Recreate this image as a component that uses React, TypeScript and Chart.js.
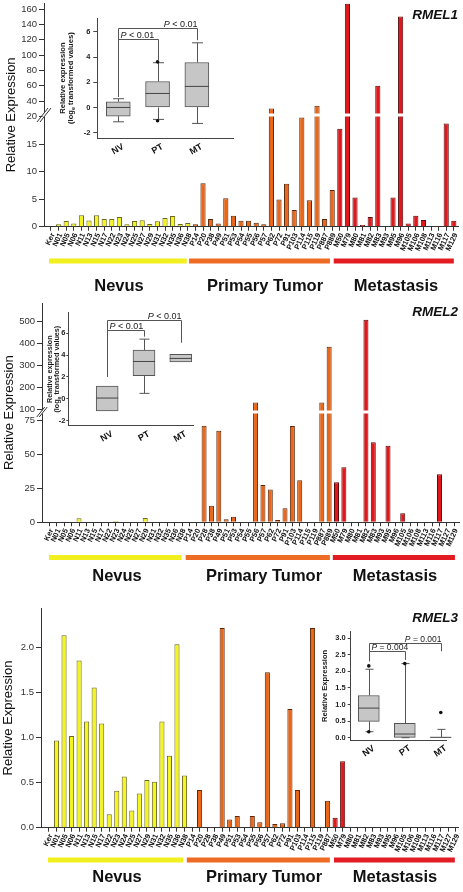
import React, { useEffect, useRef } from 'react';
import { Chart, registerables, LinearScale } from 'chart.js';

Chart.register(...registerables);

const FONT = '"Liberation Sans", Arial, Helvetica, sans-serif';
Chart.defaults.font.family = FONT;
Chart.defaults.color = '#222';

// ---------------- DATA ----------------
const NEVUS_LABELS = ['Ker', 'N01', 'N05', 'N06', 'N11', 'N13', 'N15', 'N17', 'N22', 'N23', 'N24', 'N25', 'N27', 'N29', 'N31', 'N32', 'N35', 'N36', 'N38'];
const PRIMARY_1 = ['P14', 'P20', 'P38', 'P49', 'P51', 'P53', 'P54', 'P55', 'P56', 'P57', 'P62', 'P72', 'P91', 'P103', 'P114', 'P115', 'P119', 'P887', 'P889'];
const META_1 = ['M50', 'M79', 'M80', 'M81', 'M82', 'M83', 'M93', 'M95', 'M96', 'M105', 'M106', 'M108', 'M113', 'M116', 'M117', 'M129'];
const PRIMARY_2 = ['P14', 'P20', 'P28', 'P38', 'P49', 'P51', 'P53', 'P54', 'P55', 'P56', 'P57', 'P62', 'P72', 'P91', 'P103', 'P114', 'P115', 'P119', 'P887', 'P889'];
const META_2 = ['M50', 'M79', 'M80', 'M81', 'M82', 'M83', 'M93', 'M95', 'M96', 'M105', 'M106', 'M108', 'M113', 'M116', 'M117', 'M127', 'M129'];
const PRIMARY_3 = ['P14', 'P20', 'P28', 'P38', 'P49', 'P51', 'P53', 'P54', 'P55', 'P56', 'P57', 'P62', 'P72', 'P91', 'P103', 'P114', 'P115', 'P119', 'P887'];
const META_3 = ['M50', 'M79', 'M80', 'M81', 'M82', 'M83', 'M93', 'M95', 'M96', 'M105', 'M106', 'M108', 'M113', 'M116', 'M117', 'M127', 'M129'];

const GROUP_NAMES = ['Nevus', 'Primary Tumor', 'Metastasis'];

const RMEL1_NEVUS = [0, 0.44, 1.05, 0.6, 2.06, 1.12, 2.06, 1.39, 1.39, 1.76, 0.44, 1.05, 1.15, 0.5, 0.97, 1.6, 1.92, 0.5, 0.65];
const RMEL1_PRIMARY = [0.44, 7.9, 1.4, 0.6, 5.15, 1.97, 1.1, 1.1, 0.7, 0.45, 30.6, 4.95, 7.8, 3.05, 19.8, 4.8, 34, 1.4, 6.65];
const RMEL1_META = [17.8, 167, 5.3, 0.3, 1.75, 60, 0, 5.3, 150.5, 0.6, 2.0, 1.2, 0, 0, 18.75, 1.1];

const RMEL2_NEVUS = [0, 0, 0.3, 0, 2.9, 0, 0, 0, 0, 1.0, 0, 0, 0, 3.2, 0, 0, 0, 0, 0];
const RMEL2_PRIMARY = [0, 0, 71, 12.2, 67.4, 2.2, 4, 0, 0, 130, 27.4, 24.2, 1.7, 10.3, 70.8, 31, 0, 0, 130, 385];
const RMEL2_META = [29.4, 40.4, 0, 0, 508, 58.8, 0, 56.3, 0, 6.6, 0, 0, 0, 0, 35.3, 0, 0];

const RMEL3_NEVUS = [0, 0.97, 2.14, 1.02, 1.86, 1.18, 1.56, 1.16, 0.15, 0.41, 0.57, 0.19, 0.38, 0.53, 0.51, 1.18, 0.8, 2.04, 0.58];
const RMEL3_PRIMARY = [0, 0.42, 0, 0, 2.22, 0.09, 0.13, 0, 0.13, 0.06, 1.73, 0.04, 0.05, 1.32, 0.42, 0, 2.22, 0, 0.3];
const RMEL3_META = [0.11, 0.74, 0, 0, 0, 0, 0, 0, 0, 0, 0, 0, 0, 0, 0, 0, 0];

const Y1_TICKS = [0, 5, 10, 15, 20, 40, 60, 80, 100, 120, 140, 160];
const Y2_TICKS = [0, 25, 50, 75, 100, 200, 300, 400, 500];
const Y3_TICKS = [0, 0.5, 1, 1.5, 2];

// inset box plots
const INSET_GROUPS = ['NV', 'PT', 'MT'];

const BOX1_Q1 = [-0.69, 0, 0.05];
const BOX1_MED = [0, 1.11, 1.67];
const BOX1_Q3 = [0.45, 2.06, 3.57];
const BOX1_LO = [-1.14, -0.95, -1.27];
const BOX1_HI = [0.69, 3.55, 5.13];
const OUT1_X = [1, 1];
const OUT1_Y = [3.62, -1.06];
const BR1_FROM = [0, 0];
const BR1_TO = [1, 2];
const BR1_Y = [5.4, 6.27];
const BR1_LEFT = [0.84, 0.84];
const BR1_RIGHT = [3.75, 5.34];
const BR1_TEXT = [' < 0.01', ' < 0.01'];
const INSET1_TICKS = [-2, 0, 2, 4, 6];

const BOX2_Q1 = [-1.13, 2.11, 3.39];
const BOX2_MED = [0.06, 3.42, 3.7];
const BOX2_Q3 = [1.16, 4.46, 4.07];
const BOX2_LO = [-1.13, 0.49, 3.39];
const BOX2_HI = [1.16, 5.47, 4.07];
const OUT2_X: number[] = [];
const OUT2_Y: number[] = [];
const BR2_FROM = [0, 0];
const BR2_TO = [1, 2];
const BR2_Y = [6.3, 7.2];
const BR2_LEFT = [2.0, 2.0];
const BR2_RIGHT = [5.7, 5.14];
const BR2_TEXT = [' < 0.01', ' < 0.01'];
const INSET2_TICKS = [-2, 0, 2, 4, 6];

const BOX3_Q1 = [0.49, 0.01, 0];
const BOX3_MED = [0.89, 0.11, 0.01];
const BOX3_Q3 = [1.27, 0.43, 0.02];
const BOX3_LO = [0.18, 0, 0];
const BOX3_HI = [2.06, 2.23, 0.25];
const OUT3_X = [0, 0, 1, 2];
const OUT3_Y = [2.16, 0.18, 2.23, 0.76];
const BR3_FROM = [0, 0];
const BR3_TO = [1, 2];
const BR3_Y = [2.6, 2.84];
const BR3_LEFT = [2.3, 2.3];
const BR3_RIGHT = [2.34, 2.6];
const BR3_TEXT = [' = 0.004', ' = 0.001'];
const INSET3_TICKS = [0, 0.5, 1, 1.5, 2, 2.5, 3];

// ---------------- STYLE ----------------
const BAR_FILL = ['#F4F420', '#EA6618', '#E0171B'];
const BAR_EDGE = ['#6A671E', '#5A280C', '#560E0E'];
const GROUP_FILL = ['#F2EF1F', '#EE6B24', '#E31C24'];
const AXIS = '#333';

// ---------------- broken axis scale ----------------
class BrokenLinearScale extends LinearScale {
  getPixelForValue(value: any) {
    if (value === null || value === undefined || Number.isNaN(value)) return NaN;
    const o: any = this.options;
    const b: number = o.breakValue;
    const f: number = o.breakFraction;
    const min = (this as any).min;
    const max = (this as any).max;
    const dec = value <= b ? ((value - min) / (b - min)) * f : f + ((value - b) / (max - b)) * (1 - f);
    return this.getPixelForDecimal(dec);
  }
  getValueForPixel(pixel: number) {
    const o: any = this.options;
    const b: number = o.breakValue;
    const f: number = o.breakFraction;
    const min = (this as any).min;
    const max = (this as any).max;
    const dec = this.getDecimalForPixel(pixel);
    return dec <= f ? min + (dec / f) * (b - min) : b + ((dec - f) / (1 - f)) * (max - b);
  }
}
(BrokenLinearScale as any).id = 'brokenLinear';
(BrokenLinearScale as any).defaults = (LinearScale as any).defaults;
Chart.register(BrokenLinearScale as any);

// ---------------- panel specs ----------------
type MainSpec = {
  name: string; nameBaseline: number;
  primary: string[]; meta: string[]; nv: number[]; pv: number[]; mv: number[];
  canvasTop: number; canvasHeight: number; yAxisWidth: number; padTop: number; padRight: number; xAxisHeight: number;
  xMin: number; xMax: number;
  yType: string; yMax: number; breakValue?: number; breakFraction?: number; yTicks: number[]; yDecimals: number;
  titlePad: number; groupBarTop: number; groupLabelY: number; spans: number[][]; labelX: number[];
  breakMark?: { w: number; h: number; g: number };
};

const PANELS: MainSpec[] = [
  {
    name: 'RMEL1', nameBaseline: 18.5,
    primary: PRIMARY_1, meta: META_1, nv: RMEL1_NEVUS, pv: RMEL1_PRIMARY, mv: RMEL1_META,
    canvasTop: 0, canvasHeight: 298, yAxisWidth: 44, padTop: 3, padRight: 5, xAxisHeight: 71.3,
    xMin: -0.92, xMax: 53.55,
    yType: 'brokenLinear', yMax: 168, breakValue: 20, breakFraction: 0.4926, yTicks: Y1_TICKS, yDecimals: 0,
    titlePad: 4, groupBarTop: 258.5, groupLabelY: 286, spans: [[-0.26, 17.86], [18.16, 36.7], [37.2, 53]],
    labelX: [119, 265, 396], breakMark: { w: 11, h: 14, g: 3 },
  },
  {
    name: 'RMEL2', nameBaseline: 18,
    primary: PRIMARY_2, meta: META_2, nv: RMEL2_NEVUS, pv: RMEL2_PRIMARY, mv: RMEL2_META,
    canvasTop: 298, canvasHeight: 292, yAxisWidth: 42, padTop: 5, padRight: 4, xAxisHeight: 67.7,
    xMin: -1.03, xMax: 55.65,
    yType: 'brokenLinear', yMax: 585, breakValue: 80, breakFraction: 0.4961, yTicks: Y2_TICKS, yDecimals: 0,
    titlePad: 2, groupBarTop: 257, groupLabelY: 278, spans: [[-0.08, 17.96], [18.5, 38.1], [38.5, 55.1]],
    labelX: [117, 264, 395], breakMark: { w: 8, h: 10, g: 2.5 },
  },
  {
    name: 'RMEL3', nameBaseline: 31.7,
    primary: PRIMARY_3, meta: META_3, nv: RMEL3_NEVUS, pv: RMEL3_PRIMARY, mv: RMEL3_META,
    canvasTop: 590, canvasHeight: 302, yAxisWidth: 41, padTop: 18.3, padRight: 5, xAxisHeight: 64.3,
    xMin: -1.06, xMax: 54.32,
    yType: 'linear', yMax: 2.44, yTicks: Y3_TICKS, yDecimals: 1,
    titlePad: 1, groupBarTop: 267.5, groupLabelY: 287, spans: [[-0.13, 17.8], [18.3, 37.3], [37.85, 53.9]],
    labelX: [117, 264, 395],
  },
];

type InsetSpec = {
  left: number; top: number; width: number; height: number;
  areaLeft: number; padTop: number; padRight: number; xAxisHeight: number;
  xMin: number; xMax: number; yMin: number; yMax: number; yTicks: number[]; yDecimals: number;
  q1: number[]; med: number[]; q3: number[]; lo: number[]; hi: number[]; outX: number[]; outY: number[];
  brFrom: number[]; brTo: number[]; brY: number[]; brLeft: number[]; brRight: number[]; brText: string[];
  boxWidth: number; capWidth: number; rot: number; labelOffset: number; tickLength: number; tickPad: number;
  titleLines: { x: number; segs: { t: string; sub?: boolean }[] }[]; titleSize: number; pSize: number;
};

const INSETS: InsetSpec[] = [
  {
    left: 50, top: 10, width: 190, height: 165,
    areaLeft: 47.3, padTop: 8, padRight: 7, xAxisHeight: 36.7,
    xMin: -0.534, xMax: 2.92, yMin: -2.45, yMax: 7.1, yTicks: INSET1_TICKS, yDecimals: 0,
    q1: BOX1_Q1, med: BOX1_MED, q3: BOX1_Q3, lo: BOX1_LO, hi: BOX1_HI, outX: OUT1_X, outY: OUT1_Y,
    brFrom: BR1_FROM, brTo: BR1_TO, brY: BR1_Y, brLeft: BR1_LEFT, brRight: BR1_RIGHT, brText: BR1_TEXT,
    boxWidth: 24, capWidth: 11, rot: 30, labelOffset: 5, tickLength: 4, tickPad: 3,
    titleLines: [
      { x: 13, segs: [{ t: 'Relative expression' }] },
      { x: 21, segs: [{ t: '(log' }, { t: 'e', sub: true }, { t: ' transformed values)' }] },
    ],
    titleSize: 7.6, pSize: 9,
  },
  {
    left: 15, top: 300, width: 190, height: 160,
    areaLeft: 53.3, padTop: 12.7, padRight: 11.7, xAxisHeight: 34.3,
    xMin: -1.057, xMax: 2.34, yMin: -2.48, yMax: 7.9, yTicks: INSET2_TICKS, yDecimals: 0,
    q1: BOX2_Q1, med: BOX2_MED, q3: BOX2_Q3, lo: BOX2_LO, hi: BOX2_HI, outX: OUT2_X, outY: OUT2_Y,
    brFrom: BR2_FROM, brTo: BR2_TO, brY: BR2_Y, brLeft: BR2_LEFT, brRight: BR2_RIGHT, brText: BR2_TEXT,
    boxWidth: 22, capWidth: 10, rot: 30, labelOffset: 5, tickLength: 2, tickPad: 1,
    titleLines: [
      { x: 35.5, segs: [{ t: 'Relative expression' }] },
      { x: 42.5, segs: [{ t: '(log' }, { t: 'e', sub: true }, { t: ' transformed values)' }] },
    ],
    titleSize: 7.2, pSize: 9,
  },
  {
    left: 312, top: 622, width: 148, height: 145,
    areaLeft: 38.7, padTop: 9.7, padRight: 13.3, xAxisHeight: 27,
    xMin: -0.503, xMax: 2.164, yMin: -0.07, yMax: 3.19, yTicks: INSET3_TICKS, yDecimals: 1,
    q1: BOX3_Q1, med: BOX3_MED, q3: BOX3_Q3, lo: BOX3_LO, hi: BOX3_HI, outX: OUT3_X, outY: OUT3_Y,
    brFrom: BR3_FROM, brTo: BR3_TO, brY: BR3_Y, brLeft: BR3_LEFT, brRight: BR3_RIGHT, brText: BR3_TEXT,
    boxWidth: 21, capWidth: 8, rot: 35, labelOffset: 5, tickLength: 3, tickPad: 2,
    titleLines: [{ x: 13, segs: [{ t: 'Relative Expression' }] }],
    titleSize: 7.6, pSize: 8.5,
  },
];

// ---------------- plugins ----------------
function mainDecor(s: MainSpec) {
  return {
    id: 'mainDecor',
    afterDatasetsDraw(chart: any) {
      if (s.breakValue === undefined) return;
      const { ctx, chartArea, scales } = chart;
      const p = scales.y.getPixelForValue(s.breakValue);
      ctx.save();
      ctx.fillStyle = '#fff';
      ctx.fillRect(chartArea.left + 1, p - 3, chartArea.right - chartArea.left, 3);
      ctx.restore();
    },
    afterDraw(chart: any) {
      const { ctx, chartArea, scales } = chart;
      const x = scales.x;
      const y = scales.y;
      ctx.save();
      if (s.breakValue !== undefined && s.breakMark) {
        const p = y.getPixelForValue(s.breakValue) - 1.5;
        const ax = chartArea.left;
        const { w, h, g } = s.breakMark;
        const vg = (g * h) / w;
        ctx.fillStyle = '#fff';
        ctx.fillRect(ax - 1.5, p - vg / 2, 3, vg);
        ctx.strokeStyle = '#333';
        ctx.lineWidth = 1;
        for (let k = 0; k < 2; k++) {
          const dx = (k - 0.5) * g;
          ctx.beginPath();
          ctx.moveTo(ax - w / 2 + dx, p + h / 2);
          ctx.lineTo(ax + w / 2 + dx, p - h / 2);
          ctx.stroke();
        }
      }
      s.spans.forEach((span, gi) => {
        const x0 = x.getPixelForValue(span[0]);
        const x1 = x.getPixelForValue(span[1]);
        ctx.fillStyle = GROUP_FILL[gi];
        ctx.fillRect(x0, s.groupBarTop, x1 - x0, 5);
        ctx.fillStyle = '#111';
        ctx.font = `bold 16.5px ${FONT}`;
        ctx.textAlign = 'center';
        ctx.textBaseline = 'middle';
        ctx.fillText(GROUP_NAMES[gi], s.labelX[gi], s.groupLabelY);
      });
      ctx.font = `italic bold 13.5px ${FONT}`;
      ctx.textAlign = 'right';
      ctx.textBaseline = 'alphabetic';
      ctx.fillStyle = '#111';
      ctx.fillText(s.name, 458, s.nameBaseline);
      ctx.restore();
    },
  };
}

function insetDecor(s: InsetSpec) {
  const line = (ctx: any, x0: number, y0: number, x1: number, y1: number) => {
    ctx.beginPath();
    ctx.moveTo(x0, y0);
    ctx.lineTo(x1, y1);
    ctx.stroke();
  };
  return {
    id: 'insetDecor',
    beforeDatasetsDraw(chart: any) {
      const { ctx, scales } = chart;
      const x = scales.x;
      const y = scales.y;
      ctx.save();
      ctx.strokeStyle = '#555';
      ctx.lineWidth = 1;
      s.q1.forEach((q1, i) => {
        const cx = Math.round(x.getPixelForValue(i)) + 0.5;
        const hw = s.capWidth / 2;
        if (s.hi[i] > s.q3[i]) {
          const yh = y.getPixelForValue(s.hi[i]);
          line(ctx, cx, y.getPixelForValue(s.q3[i]), cx, yh);
          line(ctx, cx - hw, yh, cx + hw, yh);
        }
        if (s.lo[i] < q1) {
          const yl = y.getPixelForValue(s.lo[i]);
          line(ctx, cx, y.getPixelForValue(q1), cx, yl);
          line(ctx, cx - hw, yl, cx + hw, yl);
        }
      });
      ctx.restore();
    },
    afterDatasetsDraw(chart: any) {
      const { ctx, scales, chartArea } = chart;
      const x = scales.x;
      const y = scales.y;
      ctx.save();
      ctx.strokeStyle = '#444';
      ctx.lineWidth = 1;
      s.med.forEach((m, i) => {
        const cx = x.getPixelForValue(i);
        const ym = y.getPixelForValue(m);
        line(ctx, cx - s.boxWidth / 2, ym, cx + s.boxWidth / 2, ym);
      });
      ctx.strokeStyle = '#555';
      s.brFrom.forEach((from, i) => {
        const xa = Math.round(x.getPixelForValue(from)) + 0.5;
        const xb = Math.round(x.getPixelForValue(s.brTo[i])) + 0.5;
        const yt = Math.round(y.getPixelForValue(s.brY[i])) + 0.5;
        ctx.beginPath();
        ctx.moveTo(xa, y.getPixelForValue(s.brLeft[i]));
        ctx.lineTo(xa, yt);
        ctx.lineTo(xb, yt);
        ctx.lineTo(xb, y.getPixelForValue(s.brRight[i]));
        ctx.stroke();
        const italic = `italic ${s.pSize}px ${FONT}`;
        const normal = `${s.pSize}px ${FONT}`;
        ctx.font = italic;
        const wP = ctx.measureText('P').width;
        ctx.font = normal;
        const wR = ctx.measureText(s.brText[i]).width;
        const sx = i === 0 ? xa + 2 : xb - wP - wR;
        ctx.fillStyle = '#222';
        ctx.textAlign = 'left';
        ctx.textBaseline = 'alphabetic';
        ctx.font = italic;
        ctx.fillText('P', sx, yt - 2);
        ctx.font = normal;
        ctx.fillText(s.brText[i], sx + wP, yt - 2);
      });
      const cy = (chartArea.top + chartArea.bottom) / 2;
      s.titleLines.forEach((ln) => {
        ctx.save();
        ctx.translate(ln.x, cy);
        ctx.rotate(-Math.PI / 2);
        ctx.fillStyle = '#1a1a1a';
        ctx.textBaseline = 'middle';
        ctx.textAlign = 'left';
        const fontFor = (sub?: boolean) => `bold ${sub ? s.titleSize * 0.72 : s.titleSize}px ${FONT}`;
        let total = 0;
        const widths = ln.segs.map((sg) => {
          ctx.font = fontFor(sg.sub);
          const w = ctx.measureText(sg.t).width;
          total += w;
          return w;
        });
        let xs = -total / 2;
        ln.segs.forEach((sg, k) => {
          ctx.font = fontFor(sg.sub);
          ctx.fillText(sg.t, xs, sg.sub ? 2 : 0);
          xs += widths[k];
        });
        ctx.restore();
      });
      ctx.restore();
    },
  };
}

// ---------------- builders ----------------
function buildMain(canvas: HTMLCanvasElement, s: MainSpec) {
  const labels = [...NEVUS_LABELS, ...s.primary, ...s.meta];
  const values = [...s.nv, ...s.pv, ...s.mv];
  const group = labels.map((_, i) => (i < NEVUS_LABELS.length ? 0 : i < NEVUS_LABELS.length + s.primary.length ? 1 : 2));
  const data = values.map((v, i) => ({ x: i, y: v > 0 ? v : null }));
  const yScale: any = {
    type: s.yType,
    min: 0,
    max: s.yMax,
    grid: { drawOnChartArea: false, drawTicks: true, tickLength: 5, color: AXIS },
    border: { display: true, color: AXIS, width: 1 },
    ticks: {
      font: { size: 9.5 },
      color: '#333',
      padding: 2,
      callback: (v: number) => (s.yDecimals ? Number(v).toFixed(s.yDecimals) : String(v)),
    },
    afterBuildTicks: (sc: any) => {
      sc.ticks = s.yTicks.map((v) => ({ value: v }));
    },
    afterFit: (sc: any) => {
      sc.width = s.yAxisWidth;
      sc.paddingTop = 0;
      sc.paddingBottom = 0;
    },
    title: { display: true, text: 'Relative Expression', font: { size: 13 }, color: '#111', padding: { top: s.titlePad, bottom: 0 } },
  };
  if (s.breakValue !== undefined) {
    yScale.breakValue = s.breakValue;
    yScale.breakFraction = s.breakFraction;
  }
  return new Chart(canvas, {
    type: 'bar',
    data: {
      datasets: [
        {
          data: data as any,
          backgroundColor: group.map((g) => BAR_FILL[g]),
          borderColor: group.map((g) => BAR_EDGE[g]),
          borderWidth: 1,
          barPercentage: 0.68,
          categoryPercentage: 1,
        },
      ],
    },
    options: {
      responsive: false,
      animation: false,
      layout: { padding: { top: s.padTop, right: s.padRight, left: 0, bottom: 0 } },
      plugins: { legend: { display: false }, tooltip: { enabled: false } },
      scales: {
        x: {
          type: 'linear',
          min: s.xMin,
          max: s.xMax,
          offset: false,
          grid: { display: true, drawOnChartArea: false, drawTicks: true, tickLength: 4, color: AXIS, offset: false },
          border: { display: true, color: AXIS, width: 1 },
          ticks: {
            autoSkip: false,
            minRotation: 65,
            maxRotation: 65,
            padding: 1,
            labelOffset: 2,
            font: { size: 7.5, weight: 'bold' },
            color: '#111',
            callback: (v: number) => labels[v] ?? '',
          },
          afterBuildTicks: (sc: any) => {
            sc.ticks = labels.map((_, i) => ({ value: i }));
          },
          afterFit: (sc: any) => {
            sc.height = s.xAxisHeight;
            sc.paddingLeft = 0;
            sc.paddingRight = 0;
          },
        } as any,
        y: yScale,
      },
    },
    plugins: [mainDecor(s)],
  });
}

function buildInset(canvas: HTMLCanvasElement, s: InsetSpec) {
  return new Chart(canvas, {
    type: 'bar',
    data: {
      datasets: [
        {
          type: 'bar',
          data: s.q1.map((q, i) => ({ x: i, y: [q, s.q3[i]] })) as any,
          backgroundColor: '#C6C6C6',
          borderColor: '#555',
          borderWidth: 1,
          borderSkipped: false,
          barThickness: s.boxWidth,
        } as any,
        {
          type: 'scatter',
          data: s.outX.map((xv, i) => ({ x: xv, y: s.outY[i] })),
          pointRadius: 1.8,
          pointBackgroundColor: '#111',
          pointBorderColor: '#111',
          pointBorderWidth: 0,
        } as any,
      ],
    },
    options: {
      responsive: false,
      animation: false,
      layout: { padding: { top: s.padTop, right: s.padRight, left: 0, bottom: 0 } },
      plugins: { legend: { display: false }, tooltip: { enabled: false } },
      scales: {
        x: {
          type: 'linear',
          min: s.xMin,
          max: s.xMax,
          offset: false,
          grid: { display: false, drawTicks: false },
          border: { display: true, color: '#444', width: 1 },
          ticks: {
            autoSkip: false,
            minRotation: s.rot,
            maxRotation: s.rot,
            padding: 3,
            labelOffset: s.labelOffset,
            font: { size: 9, weight: 'bold' },
            color: '#111',
            callback: (v: number) => INSET_GROUPS[v] ?? '',
          },
          afterBuildTicks: (sc: any) => {
            sc.ticks = INSET_GROUPS.map((_, i) => ({ value: i }));
          },
          afterFit: (sc: any) => {
            sc.height = s.xAxisHeight;
            sc.paddingLeft = 0;
            sc.paddingRight = 0;
          },
        } as any,
        y: {
          type: 'linear',
          min: s.yMin,
          max: s.yMax,
          grid: { drawOnChartArea: false, drawTicks: true, tickLength: s.tickLength, color: '#444' },
          border: { display: true, color: '#444', width: 1 },
          ticks: {
            font: { size: 7.5, weight: 'bold' },
            color: '#222',
            padding: s.tickPad,
            callback: (v: number) => (s.yDecimals ? Number(v).toFixed(s.yDecimals) : String(v)),
          },
          afterBuildTicks: (sc: any) => {
            sc.ticks = s.yTicks.map((v) => ({ value: v }));
          },
          afterFit: (sc: any) => {
            sc.width = s.areaLeft;
            sc.paddingTop = 0;
            sc.paddingBottom = 0;
          },
        } as any,
      },
    },
    plugins: [insetDecor(s)],
  });
}

// ---------------- components ----------------
function ChartCanvas(props: { left: number; top: number; width: number; height: number; build: (c: HTMLCanvasElement) => Chart }) {
  const ref = useRef<HTMLCanvasElement>(null);
  useEffect(() => {
    const chart = props.build(ref.current as HTMLCanvasElement);
    return () => chart.destroy();
  }, []);
  return (
    <canvas
      ref={ref}
      width={props.width}
      height={props.height}
      style={{ position: 'absolute', left: props.left, top: props.top, width: props.width, height: props.height }}
    />
  );
}

export default function App() {
  return (
    <div style={{ position: 'absolute', left: 0, top: 0, width: 463, height: 892, background: '#fff', overflow: 'hidden' }}>
      {PANELS.map((p, i) => (
        <ChartCanvas key={'m' + i} left={0} top={p.canvasTop} width={463} height={p.canvasHeight} build={(c) => buildMain(c, p)} />
      ))}
      {INSETS.map((s, i) => (
        <ChartCanvas key={'i' + i} left={s.left} top={s.top} width={s.width} height={s.height} build={(c) => buildInset(c, s)} />
      ))}
    </div>
  );
}
